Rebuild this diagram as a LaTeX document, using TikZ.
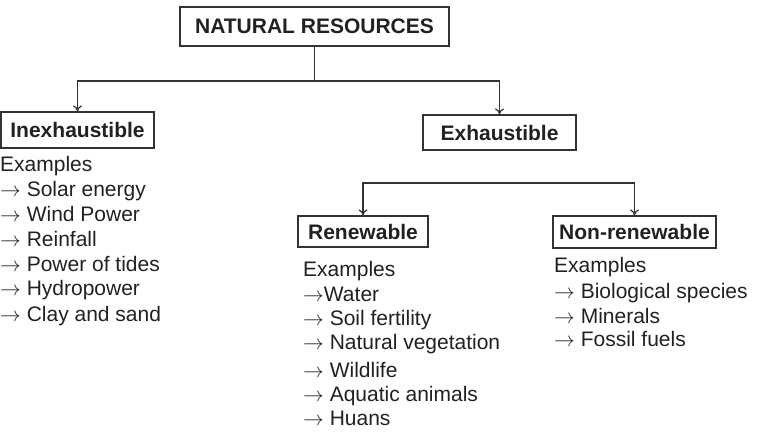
\documentclass[tikz,border=0pt]{standalone}
\usepackage{fontspec}
\setmainfont{Liberation Sans}
\usetikzlibrary{arrows.meta}

\begin{document}
\begin{tikzpicture}[x=1pt, y=-1pt]
\tikzset{boite/.style={draw=black!80, line width=1.2pt, inner sep=0pt, text=black!87, font=\fontsize{21}{25}\selectfont\bfseries},
texte/.style={anchor=base west, inner sep=0pt, text=black!87, font=\fontsize{21}{25}\selectfont},
fleche/.style={draw=black!80, line width=1.2pt, -{To[length=6pt, width=9pt]}}}
\useasboundingbox (0,0) rectangle (772,437);
\node[boite, minimum width=269pt, minimum height=39pt] (NR) at (314.5,26.5) {NATURAL RESOURCES};
\node[boite, minimum width=153pt, minimum height=36pt] (I) at (77.5,130) {Inexhaustible};
\node[boite, minimum width=153pt, minimum height=35pt] (E) at (499.5,132.5) {Exhaustible};
\node[boite, minimum width=130pt, minimum height=31pt] (R) at (363,231.5) {Renewable};
\node[boite, minimum width=163pt, minimum height=32pt] (N) at (634.5,232) {Non-renewable};
\coordinate (S1) at (314.5,81);
\coordinate (S2) at (500,183);
\draw[draw=black!80, line width=1.2pt] (NR) -- (S1);
\draw[fleche] (S1) -| (I);
\draw[fleche] (S1) -| (E);
\draw[fleche] (S2) -| (R);
\draw[fleche] (S2) -| (N);
% examples
\foreach \y/\t [count=\i] in {171/Examples, 196/$\rightarrow$ Solar energy, 221/$\rightarrow$ Wind Power,
246/$\rightarrow$ Reinfall, 271/$\rightarrow$ Power of tides, 295/$\rightarrow$ Hydropower, 321/$\rightarrow$ Clay and sand}
\node[texte] (I\i) at (0,\y) {\t};
\foreach \y/\t [count=\i] in {276/Examples, 301/$\rightarrow$Water, 325/$\rightarrow$ Soil fertility,
349/$\rightarrow$ Natural vegetation, 377/$\rightarrow$ Wildlife, 401/$\rightarrow$ Aquatic animals, 425/$\rightarrow$ Huans}
\node[texte] (R\i) at (303,\y) {\t};
\foreach \y/\t [count=\i] in {272/Examples, 298/$\rightarrow$ Biological species, 323/$\rightarrow$ Minerals, 346/$\rightarrow$ Fossil fuels}
\node[texte] (N\i) at (554,\y) {\t};
\end{tikzpicture}
\end{document}
